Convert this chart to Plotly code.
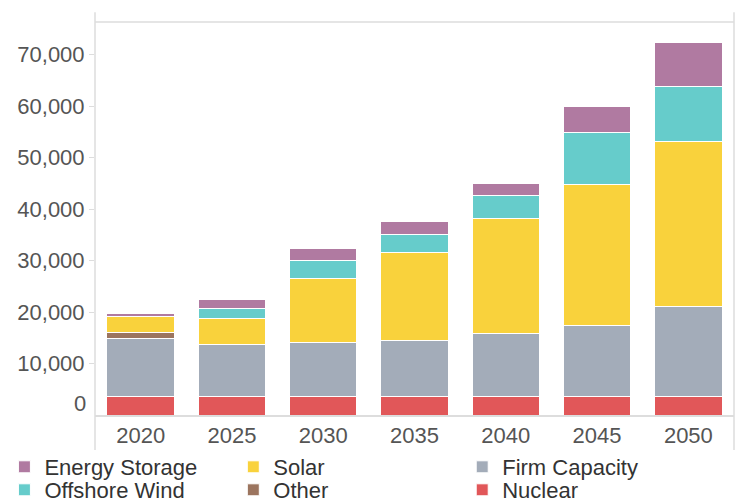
import plotly.graph_objects as go

# Installed capacity by resource type (MW)
years = ["2020", "2025", "2030", "2035", "2040", "2045", "2050"]
nuclear = [3500, 3500, 3500, 3500, 3500, 3500, 3500]
firm_capacity = [11460, 10160, 10680, 10930, 12290, 13900, 17590]
other = [1090, 0, 0, 0, 0, 0, 0]
solar = [3110, 5190, 12290, 17150, 22330, 27320, 32120]
offshore_wind = [0, 1750, 3500, 3570, 4470, 10100, 10600]
energy_storage = [580, 1750, 2470, 2450, 2470, 5050, 8620]

y_ticks = [10000, 20000, 30000, 40000, 50000, 60000, 70000]
y_tick_text = ["10,000", "20,000", "30,000", "40,000", "50,000", "60,000", "70,000"]

# stacking order bottom -> top; each series gets its own legend slot
# (column, row) in a 3 x 2 grid below the chart
series = [
    ("Nuclear", nuclear, "#E15759", (2, 1)),
    ("Firm Capacity", firm_capacity, "#A3ACB9", (2, 0)),
    ("Other", other, "#9C755F", (1, 1)),
    ("Solar", solar, "#F9D23C", (1, 0)),
    ("Offshore Wind", offshore_wind, "#66CCCB", (0, 1)),
    ("Energy Storage", energy_storage, "#B07AA1", (0, 0)),
]

col_x = [0.006, 0.317, 0.628]    # container fractions
row_y = [0.0697, 0.0239]

fig = go.Figure()
legend_layout = {}
for i, (name, vals, color, (col, row)) in enumerate(series):
    key = "legend" if i == 0 else f"legend{i + 1}"
    fig.add_trace(go.Bar(
        x=years, y=vals, name=name, legend=key,
        marker=dict(color=color, line=dict(color="white", width=1)),
        hovertemplate="%{x}: %{y:,} MW<extra>" + name + "</extra>",
    ))
    legend_layout[key] = dict(
        xref="container", yref="container",
        x=col_x[col], y=row_y[row], xanchor="left", yanchor="middle",
        itemwidth=30,
        font=dict(size=22, color="#333333"),
        bgcolor="rgba(0,0,0,0)",
    )

frame = "#DDDDDD"
fig.update_layout(
    barmode="stack",
    bargap=0.26,
    width=736, height=502,
    margin=dict(l=95, r=2, t=22, b=87, autoexpand=False),
    plot_bgcolor="white", paper_bgcolor="white",
    font=dict(family="Liberation Sans, Arial, sans-serif", color="#555555"),
    showlegend=True,
    xaxis=dict(
        type="category",
        showline=True, linecolor=frame, linewidth=1.5,
        ticks="", showgrid=False, automargin=False,
        tickfont=dict(size=22, color="#555555"),
    ),
    yaxis=dict(
        range=[0, 76370],
        tickvals=y_ticks, ticktext=y_tick_text,
        showgrid=False, zeroline=False, showline=False, automargin=False,
        ticks="outside", ticklen=5, tickcolor=frame,
        tickfont=dict(size=22, color="#555555"),
    ),
    shapes=[
        dict(type="line", xref="paper", yref="paper", x0=0, x1=0, y0=-0.089, y1=1.025,
             line=dict(color=frame, width=1.5)),
        dict(type="line", xref="paper", yref="paper", x0=1, x1=1, y0=-0.089, y1=1.025,
             line=dict(color=frame, width=1.5)),
        dict(type="line", xref="paper", yref="paper", x0=0, x1=1, y0=1, y1=1,
             line=dict(color=frame, width=1.5)),
    ],
    annotations=[
        dict(text="0", xref="paper", yref="y", x=0, y=0, xanchor="right",
             yanchor="middle", xshift=-7, yshift=12, showarrow=False,
             font=dict(size=22, color="#555555")),
    ],
    **legend_layout,
)

fig.write_html("out.html")
